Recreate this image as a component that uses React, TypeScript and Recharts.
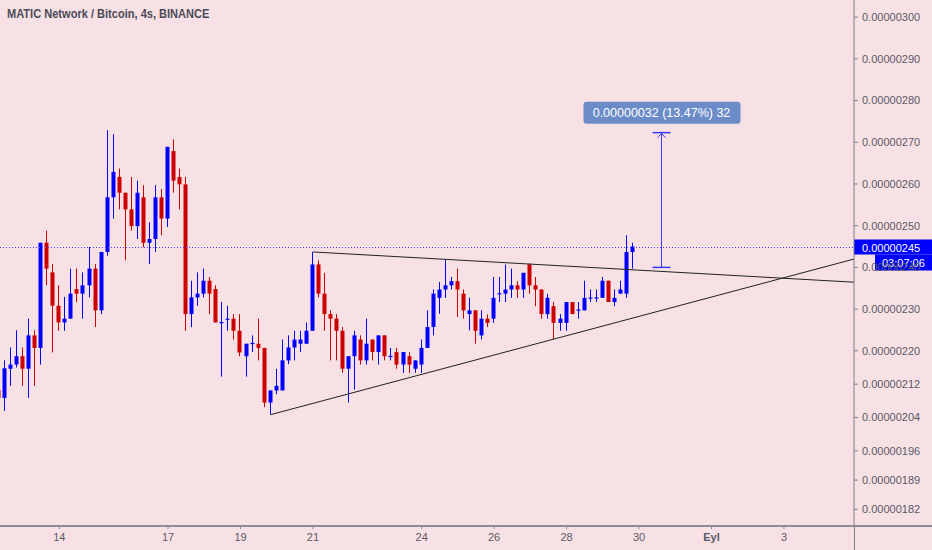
import { ComposedChart, Bar, XAxis, YAxis, ReferenceLine } from "recharts";

// MATIC/BTC 4h candles, prices in 1e-8 BTC (satoshi)
const TITLE = "MATIC Network / Bitcoin, 4s, BINANCE";

const OPEN = [
  210.6, 208.7, 215.7, 216.7, 218.7, 215.7, 223.7, 220.7, 245.9, 238.8,
  230.8, 226.8, 227.7, 234.8, 233.7, 235.7, 239.7, 229.7, 243.7, 256.8,
  261.7, 257.9, 253.9, 249.9, 256.8, 245.9, 246.8, 256.8, 251.7, 267.9,
  261.7, 259.9, 228.8, 232.8, 233.7, 236.8, 234.8, 226.7, 227.6, 227.7,
  224.8, 218.7, 221.6, 221.7, 220.7, 207.6, 210.5, 210.5, 217.7, 220.8,
  221.7, 221.7, 224.8, 240.7, 233.7, 228.8, 227.7, 224.8, 215.7, 218.7,
  222.7, 217.7, 222.7, 219.7, 223.7, 218.5, 219.7, 216.7, 218.7, 215.7,
  216.7, 220.7, 225.7, 232.7, 234.7, 235.7, 236.7, 233.7, 228.8, 229.7,
  223.7, 227.7, 227.7, 233.6, 233.7, 234.7, 235.7, 234.7, 240.7, 235.7,
  234.7, 228.8, 230.7, 226.7, 226.7, 231.7, 229.6, 229.7, 232.7, 232.7,
  232.7, 236.8, 231.7, 233.7, 233.7, 243.7,
];
const HIGH = [
  211.6, 217.7, 220.8, 224.9, 220.8, 227.7, 224.9, 245.9, 248.8, 240.8,
  235.7, 232.9, 239.7, 239.7, 238.8, 244.9, 240.8, 243.7, 272.9, 271.9,
  263.7, 257.9, 261.7, 260.8, 259.7, 250.8, 259.7, 258.8, 268.9, 270.7,
  263.7, 261.7, 236.8, 238.8, 239.7, 237.7, 235.7, 231.7, 230.8, 228.8,
  228.8, 221.7, 223.7, 227.7, 220.7, 210.5, 215.7, 222.7, 223.7, 224.8,
  224.8, 226.8, 243.7, 241.7, 238.7, 229.7, 228.8, 225.7, 218.7, 224.8,
  223.7, 227.7, 222.7, 223.7, 223.7, 220.7, 220.7, 219.7, 219.7, 217.7,
  222.7, 229.7, 234.7, 236.5, 241.9, 237.7, 239.7, 234.7, 232.7, 229.7,
  229.7, 228.7, 237.7, 237.7, 240.7, 239.7, 236.7, 238.7, 240.9, 237.7,
  234.7, 233.7, 231.7, 228.8, 231.7, 231.7, 231.7, 236.8, 234.7, 234.7,
  237.7, 236.8, 234.7, 236.8, 247.7, 245.9,
];
const LOW = [
  207.7, 205.6, 211.6, 216.0, 211.6, 208.7, 211.6, 216.7, 235.7, 219.6,
  224.8, 224.8, 227.7, 231.7, 227.7, 232.8, 225.7, 228.8, 242.8, 251.7,
  253.9, 241.7, 248.8, 246.8, 244.8, 240.8, 243.7, 247.7, 249.7, 257.9,
  253.9, 224.8, 225.7, 230.8, 232.8, 228.8, 226.8, 213.8, 224.8, 222.7,
  218.7, 213.8, 219.7, 217.7, 206.5, 204.7, 209.6, 210.5, 216.8, 217.7,
  219.7, 221.7, 224.8, 232.8, 224.8, 217.7, 217.7, 214.7, 207.6, 210.7,
  216.7, 216.7, 217.7, 216.7, 217.7, 217.7, 215.7, 214.7, 214.7, 214.7,
  214.7, 220.7, 223.7, 228.9, 232.7, 234.7, 228.1, 227.7, 224.9, 221.7,
  222.7, 225.7, 226.7, 231.7, 231.7, 232.7, 232.7, 232.7, 233.7, 230.7,
  227.7, 227.7, 222.8, 224.8, 224.8, 228.8, 227.7, 229.7, 231.7, 231.7,
  232.7, 231.7, 230.7, 233.7, 232.7, 239.7,
];
const CLOSE = [
  208.7, 215.8, 216.7, 218.7, 215.7, 223.7, 220.7, 245.9, 239.7, 230.8,
  226.8, 227.7, 233.7, 233.7, 235.7, 239.7, 229.7, 243.7, 256.8, 262.9,
  257.9, 253.9, 249.9, 257.9, 245.9, 246.8, 256.8, 251.7, 268.9, 260.8,
  259.9, 228.8, 232.8, 233.7, 236.8, 233.7, 226.8, 226.9, 227.7, 224.8,
  219.6, 221.7, 221.9, 220.7, 207.6, 210.5, 211.6, 217.7, 220.8, 222.7,
  222.7, 224.8, 240.7, 233.7, 228.8, 227.7, 224.8, 215.7, 218.7, 223.7,
  217.7, 221.7, 219.7, 223.7, 218.7, 218.8, 216.7, 219.7, 216.7, 217.7,
  220.7, 225.7, 233.7, 234.7, 235.7, 236.7, 234.7, 229.7, 229.7, 224.8,
  227.7, 226.7, 232.7, 233.8, 234.7, 235.7, 234.7, 238.7, 235.7, 234.7,
  228.8, 232.7, 226.7, 227.7, 231.7, 228.8, 229.9, 232.7, 232.8, 232.8,
  236.8, 231.7, 232.7, 234.7, 243.7, 245.0,
];

// index 10 = 14 Aug 00:00, 6 candles per day
const DAY_TICKS = [10, 28, 40, 52, 70, 82, 94, 106, 118, 130];
const DAY_LABELS = ["14", "17", "19", "21", "24", "26", "28", "30", "Eyl", "3"];
const PRICE_TICKS = [182, 189, 196, 204, 212, 220, 230, 240, 250, 260, 270, 280, 290, 300];

const LAST_PRICE = 245;
const COUNTDOWN = "03:07:06";
const UPPER_TREND = [{ x: 52, y: 243.7 }, { x: 141.6, y: 236.45 }];
const LOWER_TREND = [{ x: 45, y: 204.7 }, { x: 141.6, y: 242.0 }];
const MEASURE_X = 109.6;
const MEASURE_FROM = 240.0;
const MEASURE_TO = 272.3;
const MEASURE_TEXT = "0.00000032 (13.47%) 32";

const BG = "#f8e1e4";
const UP = "#0000ff";
const DOWN = "#cc0000";
const AXIS_TEXT = "#5a5a66";
const FONT = "'Liberation Sans', Arial, sans-serif";
const AXIS_W = 78;

const data = OPEN.map((o, i) => ({ i, o, h: HIGH[i], l: LOW[i], c: CLOSE[i] }));

const fmtPrice = (v: number) => "0.00000" + String(v);

const Candle = (props: any) => {
  const { x, y, width, height, payload } = props;
  const { o, h, l, c } = payload;
  const color = c >= o ? UP : DOWN;
  const top = Math.min(y, y + height);
  const hgt = Math.abs(height);
  const k = hgt / (h - l);
  const bTop = top + (h - Math.max(o, c)) * k;
  const bBot = top + (h - Math.min(o, c)) * k;
  const cx = Math.round(x + width / 2) - 0.5;
  return (
    <g>
      <line x1={cx} x2={cx} y1={top} y2={top + hgt} stroke={color} strokeWidth={1} />
      <rect x={cx - 2} y={bTop} width={4} height={Math.max(1.2, bBot - bTop)} fill={color} />
    </g>
  );
};

const DayTick = (props: any) => {
  const { x, y, payload } = props;
  const label = DAY_LABELS[DAY_TICKS.indexOf(payload.value)];
  return (
    <text x={x} y={y} dy="0.71em" textAnchor="middle" fill={AXIS_TEXT} fontSize={11}
      fontFamily={FONT} fontWeight={label === "Eyl" ? 700 : 400}>
      {label}
    </text>
  );
};

const PriceTag = (props: any) => {
  const { x1, x2, y1 } = props;
  const left = Math.min(x1, x2);
  const right = Math.max(x1, x2);
  const y = Math.round(y1) + 0.5;
  return (
    <g>
      <line x1={left} x2={right} y1={y} y2={y} stroke="#4040ff" strokeWidth={1} strokeDasharray="1 2" />
      <rect x={right} y={y - 8} width={AXIS_W} height={15} fill="#0000ff" />
      <text x={right + 8} y={y + 4} fill="#ffffff" fontSize={11} fontFamily={FONT}>{fmtPrice(LAST_PRICE)}</text>
      <rect x={right + 21} y={y + 7} width={AXIS_W - 21} height={16} fill="#0000ff" />
      <text x={right + 28} y={y + 19} fill="#ffffff" fontSize={11} fontFamily={FONT}>{COUNTDOWN}</text>
    </g>
  );
};

const Measure = (props: any) => {
  const { x1, y1, y2 } = props;
  const x = Math.round(x1) + 0.5;
  const top = Math.min(y1, y2);
  const bot = Math.max(y1, y2);
  const color = "#3a3aff";
  return (
    <g>
      <line x1={x} x2={x} y1={top} y2={bot} stroke={color} strokeWidth={1} />
      <line x1={x - 9} x2={x + 9} y1={top} y2={top} stroke={color} strokeWidth={1.5} />
      <line x1={x - 9} x2={x + 9} y1={bot} y2={bot} stroke={color} strokeWidth={1.5} />
      <polyline points={`${x - 4},${top + 5} ${x},${top + 1} ${x + 4},${top + 5}`} fill="none" stroke={color} strokeWidth={1} />
      <rect x={x - 78} y={top - 31} width={157} height={22} rx={3} fill="#6b8cc8" />
      <text x={x} y={top - 15.5} textAnchor="middle" fill="#ffffff" fontSize={12.5} fontFamily={FONT}>{MEASURE_TEXT}</text>
    </g>
  );
};

export default function App() {
  return (
    <div style={{ position: "absolute", left: 0, top: 0, width: 932, height: 550, background: BG, overflow: "hidden" }}>
      <div style={{ position: "absolute", left: 7, top: 6, fontFamily: FONT, fontWeight: 700, fontSize: 13, color: "#4b4b5a", zIndex: 2, transform: "scaleX(0.85)", transformOrigin: "left top", whiteSpace: "nowrap" }}>
        {TITLE}
      </div>
      <ComposedChart width={932} height={550} data={data} margin={{ top: 0, right: 0, left: 0, bottom: 0 }}>
        <XAxis
          dataKey="i"
          type="number"
          domain={[0.17, 141.6]}
          allowDataOverflow
          ticks={DAY_TICKS}
          interval={0}
          height={24}
          tickSize={3}
          tickMargin={4}
          tick={<DayTick />}
          axisLine={{ stroke: "#8c8c94", strokeWidth: 2 }}
          tickLine={{ stroke: "#8c8c94" }}
        />
        <YAxis
          orientation="right"
          type="number"
          domain={[178, 304.1]}
          allowDataOverflow
          ticks={PRICE_TICKS}
          interval={0}
          width={AXIS_W}
          tickSize={4}
          tickMargin={4}
          tickFormatter={fmtPrice}
          tick={{ fill: AXIS_TEXT, fontSize: 11, fontFamily: FONT, textAnchor: "start" }}
          axisLine={{ stroke: "#808088" }}
          tickLine={{ stroke: "#808088" }}
        />
        <Bar dataKey={(d: any) => [d.l, d.h]} barSize={4} shape={<Candle />} isAnimationActive={false} />
        <ReferenceLine segment={UPPER_TREND} stroke="#222222" strokeWidth={1} ifOverflow="visible" />
        <ReferenceLine segment={LOWER_TREND} stroke="#222222" strokeWidth={1} ifOverflow="visible" />
        <ReferenceLine segment={[{ x: MEASURE_X, y: MEASURE_FROM }, { x: MEASURE_X, y: MEASURE_TO }]} ifOverflow="visible" shape={(p: any) => <Measure {...p} />} />
        <ReferenceLine y={LAST_PRICE} ifOverflow="visible" shape={(p: any) => <PriceTag {...p} />} />
      </ComposedChart>
      <div style={{ position: "absolute", left: 854, top: 526, width: 1, height: 24, background: "#808088" }} />
      <div style={{ position: "absolute", left: 854, top: 525, width: 78, height: 2, background: "#8c8c94" }} />
    </div>
  );
}
